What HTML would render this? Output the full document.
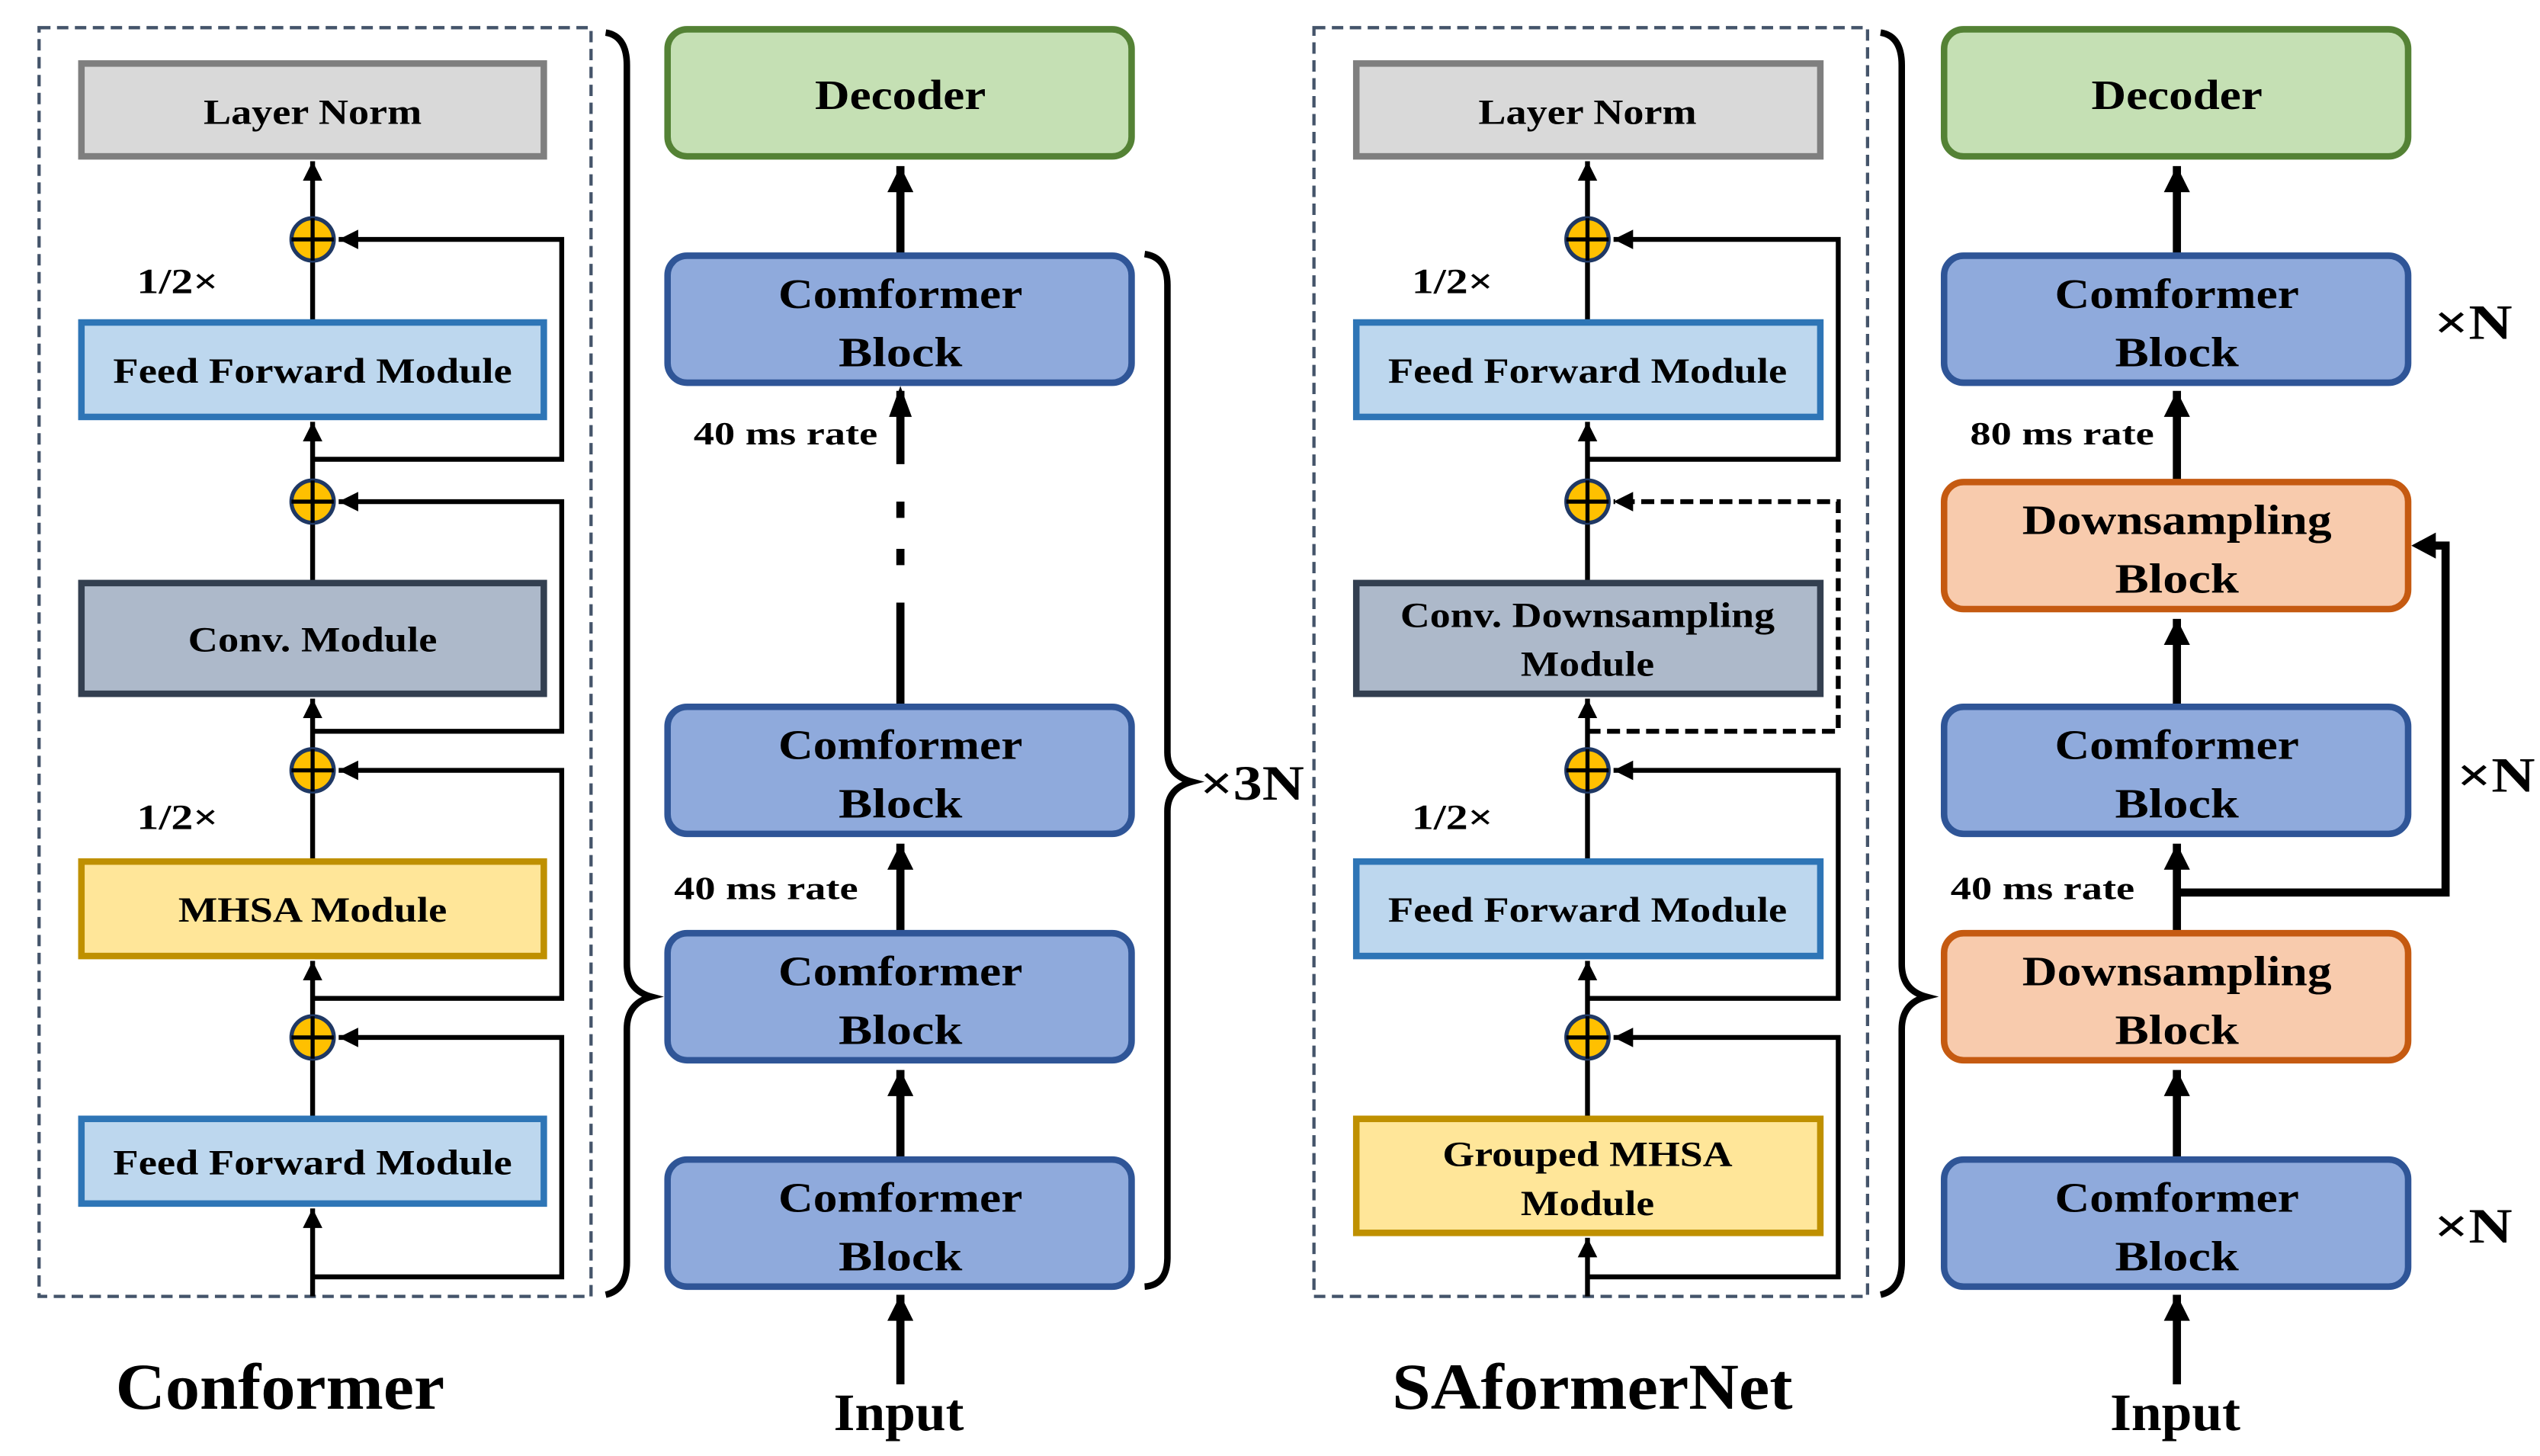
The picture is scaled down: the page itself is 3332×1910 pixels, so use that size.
<!DOCTYPE html>
<html><head><meta charset="utf-8"><style>html,body{margin:0;padding:0;background:#fff}svg{display:block}text{font-family:"Liberation Serif","Times New Roman",serif;font-weight:bold}</style></head>
<body>
<svg width="3332" height="1910" viewBox="0 0 1560 894" preserveAspectRatio="none" xmlns="http://www.w3.org/2000/svg">
<defs>
<marker id="a" viewBox="0 0 10 10" refX="10" refY="5" markerWidth="4" markerHeight="5" orient="auto-start-reverse" markerUnits="strokeWidth"><path d="M0,0L10,5L0,10z" fill="#000"/></marker>
<marker id="b" viewBox="0 0 10 10" refX="10" refY="5" markerWidth="3.4" markerHeight="3.2" orient="auto" markerUnits="strokeWidth"><path d="M0,0L10,5L0,10z" fill="#000"/></marker>
<g id="plus"><circle r="13" fill="#ffc000" stroke="#1f3864" stroke-width="2.5"/><path d="M-13,0H13M0,-13V13" stroke="#000" stroke-width="2.5"/></g>
</defs>
<rect width="1560" height="894" fill="#fff"/>

<!-- ============ LEFT: Conformer ============ -->
<rect x="24" y="17" width="339" height="779" fill="none" stroke="#44546a" stroke-width="2" stroke-dasharray="7,4"/>
<g fill="none" stroke="#000" stroke-width="3">
<path d="M192,282H345V147H208" marker-end="url(#a)"/>
<path d="M192,449H345V308H208" marker-end="url(#a)"/>
<path d="M192,613H345V473H208" marker-end="url(#a)"/>
<path d="M192,784H345V637H208" marker-end="url(#a)"/>
<path d="M192,796V742" marker-end="url(#a)"/>
<path d="M192,686V651"/>
<path d="M192,623V590" marker-end="url(#a)"/>
<path d="M192,528V487"/>
<path d="M192,459V429" marker-end="url(#a)"/>
<path d="M192,357V322"/>
<path d="M192,294V259" marker-end="url(#a)"/>
<path d="M192,197V161"/>
<path d="M192,133V99" marker-end="url(#a)"/>
</g>
<use href="#plus" x="192" y="147"/><use href="#plus" x="192" y="308"/><use href="#plus" x="192" y="473"/><use href="#plus" x="192" y="637"/>
<rect x="50" y="39" width="284" height="57" fill="#d9d9d9" stroke="#7f7f7f" stroke-width="4"/>
<text x="192" y="76" font-size="22" text-anchor="middle" textLength="134" lengthAdjust="spacingAndGlyphs">Layer Norm</text>
<rect x="50" y="198" width="284" height="58" fill="#bdd7ee" stroke="#2e75b6" stroke-width="4"/>
<text x="192" y="235" font-size="22" text-anchor="middle" textLength="245" lengthAdjust="spacingAndGlyphs">Feed Forward Module</text>
<rect x="50" y="358" width="284" height="68" fill="#adb9ca" stroke="#333f50" stroke-width="4"/>
<text x="192" y="400" font-size="22" text-anchor="middle" textLength="153" lengthAdjust="spacingAndGlyphs">Conv. Module</text>
<rect x="50" y="529" width="284" height="58" fill="#ffe699" stroke="#bf9000" stroke-width="4"/>
<text x="192" y="566" font-size="22" text-anchor="middle" textLength="165" lengthAdjust="spacingAndGlyphs">MHSA Module</text>
<rect x="50" y="687" width="284" height="52" fill="#bdd7ee" stroke="#2e75b6" stroke-width="4"/>
<text x="192" y="721" font-size="22" text-anchor="middle" textLength="245" lengthAdjust="spacingAndGlyphs">Feed Forward Module</text>
<text x="84" y="180" font-size="22" textLength="50" lengthAdjust="spacingAndGlyphs">1/2×</text>
<text x="84" y="509" font-size="22" textLength="50" lengthAdjust="spacingAndGlyphs">1/2×</text>
<path d="M372,20Q385,22 385,40V592Q385,608 400,612Q385,616 385,632V775Q385,792 372,795" fill="none" stroke="#000" stroke-width="4"/>
<text x="172" y="865" font-size="40" text-anchor="middle" textLength="202" lengthAdjust="spacingAndGlyphs">Conformer</text>

<g fill="none" stroke="#000" stroke-width="5">
<path d="M553,156V102" marker-end="url(#b)"/>
<path d="M553,433V370M553,347V337M553,318V308M553,285V240"/>
<path d="M553,572V518" marker-end="url(#b)"/>
<path d="M553,711V657" marker-end="url(#b)"/>
<path d="M553,850V795" marker-end="url(#b)"/>
</g>
<path d="M553,237L546,256H560z" fill="#000"/>
<rect x="410" y="18" width="285" height="78" rx="12" fill="#c5e0b4" stroke="#548235" stroke-width="4"/>
<text x="553" y="67" font-size="26" text-anchor="middle" textLength="105" lengthAdjust="spacingAndGlyphs">Decoder</text>
<g fill="#8faadc" stroke="#2f5597" stroke-width="4">
<rect x="410" y="157" width="285" height="78" rx="12"/>
<rect x="410" y="434" width="285" height="78" rx="12"/>
<rect x="410" y="573" width="285" height="78" rx="12"/>
<rect x="410" y="712" width="285" height="78" rx="12"/>
</g>
<g font-size="26" text-anchor="middle">
<text x="553" y="189" textLength="150" lengthAdjust="spacingAndGlyphs">Comformer</text><text x="553" y="225" textLength="76" lengthAdjust="spacingAndGlyphs">Block</text>
<text x="553" y="466" textLength="150" lengthAdjust="spacingAndGlyphs">Comformer</text><text x="553" y="502" textLength="76" lengthAdjust="spacingAndGlyphs">Block</text>
<text x="553" y="605" textLength="150" lengthAdjust="spacingAndGlyphs">Comformer</text><text x="553" y="641" textLength="76" lengthAdjust="spacingAndGlyphs">Block</text>
<text x="553" y="744" textLength="150" lengthAdjust="spacingAndGlyphs">Comformer</text><text x="553" y="780" textLength="76" lengthAdjust="spacingAndGlyphs">Block</text>
</g>
<text x="426" y="273" font-size="20" textLength="113" lengthAdjust="spacingAndGlyphs">40 ms rate</text>
<text x="414" y="552" font-size="20" textLength="113" lengthAdjust="spacingAndGlyphs">40 ms rate</text>
<path d="M703,156Q717,158 717,175V462Q717,476 732,480Q717,484 717,498V772Q717,789 703,790" fill="none" stroke="#000" stroke-width="4"/>
<text x="737" y="491" font-size="30" textLength="64" lengthAdjust="spacingAndGlyphs">×3N</text>
<text x="552" y="878" font-size="32" text-anchor="middle" textLength="80" lengthAdjust="spacingAndGlyphs">Input</text>

<!-- ============ RIGHT: SAformerNet ============ -->
<rect x="807" y="17" width="340" height="779" fill="none" stroke="#44546a" stroke-width="2" stroke-dasharray="7,4"/>
<g fill="none" stroke="#000" stroke-width="3">
<path d="M975,282H1129V147H991" marker-end="url(#a)"/>
<path d="M975,449H1129V308H991" stroke-dasharray="8,4" marker-end="url(#a)"/>
<path d="M975,613H1129V473H991" marker-end="url(#a)"/>
<path d="M975,784H1129V637H991" marker-end="url(#a)"/>
<path d="M975,796V760" marker-end="url(#a)"/>
<path d="M975,686V651"/>
<path d="M975,623V590" marker-end="url(#a)"/>
<path d="M975,528V487"/>
<path d="M975,459V429" marker-end="url(#a)"/>
<path d="M975,357V322"/>
<path d="M975,294V259" marker-end="url(#a)"/>
<path d="M975,197V161"/>
<path d="M975,133V99" marker-end="url(#a)"/>
</g>
<use href="#plus" x="975" y="147"/><use href="#plus" x="975" y="308"/><use href="#plus" x="975" y="473"/><use href="#plus" x="975" y="637"/>
<rect x="833" y="39" width="285" height="57" fill="#d9d9d9" stroke="#7f7f7f" stroke-width="4"/>
<text x="975" y="76" font-size="22" text-anchor="middle" textLength="134" lengthAdjust="spacingAndGlyphs">Layer Norm</text>
<rect x="833" y="198" width="285" height="58" fill="#bdd7ee" stroke="#2e75b6" stroke-width="4"/>
<text x="975" y="235" font-size="22" text-anchor="middle" textLength="245" lengthAdjust="spacingAndGlyphs">Feed Forward Module</text>
<rect x="833" y="358" width="285" height="68" fill="#adb9ca" stroke="#333f50" stroke-width="4"/>
<text x="975" y="385" font-size="22" text-anchor="middle" textLength="230" lengthAdjust="spacingAndGlyphs">Conv. Downsampling</text>
<text x="975" y="415" font-size="22" text-anchor="middle" textLength="82" lengthAdjust="spacingAndGlyphs">Module</text>
<rect x="833" y="529" width="285" height="58" fill="#bdd7ee" stroke="#2e75b6" stroke-width="4"/>
<text x="975" y="566" font-size="22" text-anchor="middle" textLength="245" lengthAdjust="spacingAndGlyphs">Feed Forward Module</text>
<rect x="833" y="687" width="285" height="70" fill="#ffe699" stroke="#bf9000" stroke-width="4"/>
<text x="975" y="716" font-size="22" text-anchor="middle" textLength="178" lengthAdjust="spacingAndGlyphs">Grouped MHSA</text>
<text x="975" y="746" font-size="22" text-anchor="middle" textLength="82" lengthAdjust="spacingAndGlyphs">Module</text>
<text x="867" y="180" font-size="22" textLength="50" lengthAdjust="spacingAndGlyphs">1/2×</text>
<text x="867" y="509" font-size="22" textLength="50" lengthAdjust="spacingAndGlyphs">1/2×</text>
<path d="M1155,20Q1168,22 1168,40V592Q1168,608 1183,612Q1168,616 1168,632V775Q1168,792 1155,795" fill="none" stroke="#000" stroke-width="4"/>
<text x="978" y="865" font-size="40" text-anchor="middle" textLength="246" lengthAdjust="spacingAndGlyphs">SAformerNet</text>

<g fill="none" stroke="#000" stroke-width="5">
<path d="M1337,156V102" marker-end="url(#b)"/>
<path d="M1337,295V240" marker-end="url(#b)"/>
<path d="M1337,433V380" marker-end="url(#b)"/>
<path d="M1337,572V518" marker-end="url(#b)"/>
<path d="M1337,711V657" marker-end="url(#b)"/>
<path d="M1337,850V795" marker-end="url(#b)"/>
<path d="M1337,548H1502V335H1494"/>
</g>
<path d="M1481,335L1496,327V343z" fill="#000"/>
<rect x="1194" y="18" width="285" height="78" rx="12" fill="#c5e0b4" stroke="#548235" stroke-width="4"/>
<text x="1337" y="67" font-size="26" text-anchor="middle" textLength="105" lengthAdjust="spacingAndGlyphs">Decoder</text>
<g fill="#8faadc" stroke="#2f5597" stroke-width="4">
<rect x="1194" y="157" width="285" height="78" rx="12"/>
<rect x="1194" y="434" width="285" height="78" rx="12"/>
<rect x="1194" y="712" width="285" height="78" rx="12"/>
</g>
<g fill="#f8cbad" stroke="#c55a11" stroke-width="4">
<rect x="1194" y="296" width="285" height="78" rx="12"/>
<rect x="1194" y="573" width="285" height="78" rx="12"/>
</g>
<g font-size="26" text-anchor="middle">
<text x="1337" y="189" textLength="150" lengthAdjust="spacingAndGlyphs">Comformer</text><text x="1337" y="225" textLength="76" lengthAdjust="spacingAndGlyphs">Block</text>
<text x="1337" y="328" textLength="190" lengthAdjust="spacingAndGlyphs">Downsampling</text><text x="1337" y="364" textLength="76" lengthAdjust="spacingAndGlyphs">Block</text>
<text x="1337" y="466" textLength="150" lengthAdjust="spacingAndGlyphs">Comformer</text><text x="1337" y="502" textLength="76" lengthAdjust="spacingAndGlyphs">Block</text>
<text x="1337" y="605" textLength="190" lengthAdjust="spacingAndGlyphs">Downsampling</text><text x="1337" y="641" textLength="76" lengthAdjust="spacingAndGlyphs">Block</text>
<text x="1337" y="744" textLength="150" lengthAdjust="spacingAndGlyphs">Comformer</text><text x="1337" y="780" textLength="76" lengthAdjust="spacingAndGlyphs">Block</text>
</g>
<text x="1210" y="273" font-size="20" textLength="113" lengthAdjust="spacingAndGlyphs">80 ms rate</text>
<text x="1198" y="552" font-size="20" textLength="113" lengthAdjust="spacingAndGlyphs">40 ms rate</text>
<text x="1495" y="208" font-size="30" textLength="48" lengthAdjust="spacingAndGlyphs">×N</text>
<text x="1509" y="486" font-size="30" textLength="48" lengthAdjust="spacingAndGlyphs">×N</text>
<text x="1495" y="763" font-size="30" textLength="48" lengthAdjust="spacingAndGlyphs">×N</text>
<text x="1336" y="878" font-size="32" text-anchor="middle" textLength="80" lengthAdjust="spacingAndGlyphs">Input</text>
</svg>
</body></html>
